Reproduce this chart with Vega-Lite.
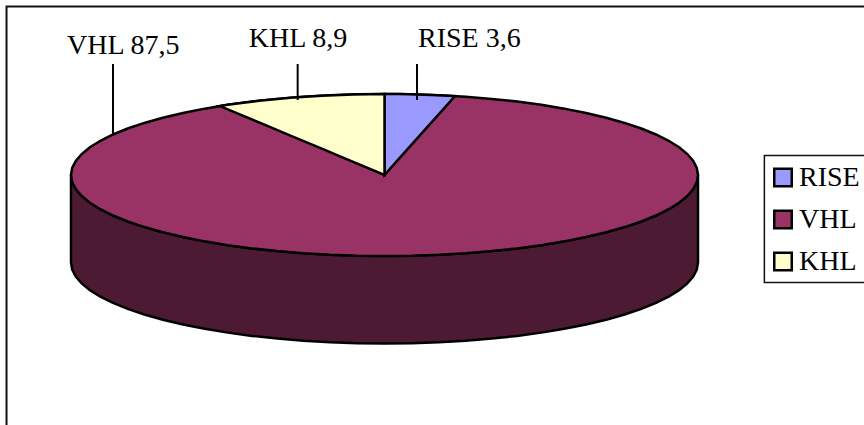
{"$schema":"https://vega.github.io/schema/vega-lite/v6.json","width":864,"height":425,"padding":0,"autosize":{"type":"none"},"background":"white","config":{"view":{"stroke":null}},
"datasets":{
"frame":[{"x":-1.2057,"x2":2,"y":2.08,"y2":-4}],
"box":[{"x":1.2117,"x2":2,"y":0.2407,"y2":-1.3272}],
"wall":[{"x":1,"y":0,"y2":-1.08},{"x":0.9962,"y":-0.0872,"y2":-1.1672},{"x":0.9848,"y":-0.1736,"y2":-1.2536},{"x":0.9659,"y":-0.2588,"y2":-1.3388},{"x":0.9397,"y":-0.342,"y2":-1.422},{"x":0.9063,"y":-0.4226,"y2":-1.5026},{"x":0.866,"y":-0.5,"y2":-1.58},{"x":0.8192,"y":-0.5736,"y2":-1.6536},{"x":0.766,"y":-0.6428,"y2":-1.7228},{"x":0.7071,"y":-0.7071,"y2":-1.7871},{"x":0.6428,"y":-0.766,"y2":-1.846},{"x":0.5736,"y":-0.8192,"y2":-1.8992},{"x":0.5,"y":-0.866,"y2":-1.946},{"x":0.4226,"y":-0.9063,"y2":-1.9863},{"x":0.342,"y":-0.9397,"y2":-2.0197},{"x":0.2588,"y":-0.9659,"y2":-2.0459},{"x":0.1736,"y":-0.9848,"y2":-2.0648},{"x":0.0872,"y":-0.9962,"y2":-2.0762},{"x":0,"y":-1,"y2":-2.08},{"x":-0.0872,"y":-0.9962,"y2":-2.0762},{"x":-0.1736,"y":-0.9848,"y2":-2.0648},{"x":-0.2588,"y":-0.9659,"y2":-2.0459},{"x":-0.342,"y":-0.9397,"y2":-2.0197},{"x":-0.4226,"y":-0.9063,"y2":-1.9863},{"x":-0.5,"y":-0.866,"y2":-1.946},{"x":-0.5736,"y":-0.8192,"y2":-1.8992},{"x":-0.6428,"y":-0.766,"y2":-1.846},{"x":-0.7071,"y":-0.7071,"y2":-1.7871},{"x":-0.766,"y":-0.6428,"y2":-1.7228},{"x":-0.8192,"y":-0.5736,"y2":-1.6536},{"x":-0.866,"y":-0.5,"y2":-1.58},{"x":-0.9063,"y":-0.4226,"y2":-1.5026},{"x":-0.9397,"y":-0.342,"y2":-1.422},{"x":-0.9659,"y":-0.2588,"y2":-1.3388},{"x":-0.9848,"y":-0.1736,"y2":-1.2536},{"x":-0.9962,"y":-0.0872,"y2":-1.1672},{"x":-1,"y":0,"y2":-1.08}],
"top":[{"series":"VHL","x":1,"y":0,"y2":0},{"series":"VHL","x":0.9962,"y":0.0872,"y2":-0.0872},{"series":"VHL","x":0.9848,"y":0.1736,"y2":-0.1736},{"series":"VHL","x":0.9659,"y":0.2588,"y2":-0.2588},{"series":"VHL","x":0.9397,"y":0.342,"y2":-0.342},{"series":"VHL","x":0.9063,"y":0.4226,"y2":-0.4226},{"series":"VHL","x":0.866,"y":0.5,"y2":-0.5},{"series":"VHL","x":0.8192,"y":0.5736,"y2":-0.5736},{"series":"VHL","x":0.766,"y":0.6428,"y2":-0.6428},{"series":"VHL","x":0.7071,"y":0.7071,"y2":-0.7071},{"series":"VHL","x":0.6428,"y":0.766,"y2":-0.766},{"series":"VHL","x":0.5736,"y":0.8192,"y2":-0.8192},{"series":"VHL","x":0.5,"y":0.866,"y2":-0.866},{"series":"VHL","x":0.4226,"y":0.9063,"y2":-0.9063},{"series":"VHL","x":0.342,"y":0.9397,"y2":-0.9397},{"series":"VHL","x":0.2588,"y":0.9659,"y2":-0.9659},{"series":"VHL","x":0.1736,"y":0.9848,"y2":-0.9848},{"series":"VHL","x":0.0872,"y":0.9962,"y2":-0.9962},{"series":"VHL","x":0,"y":1,"y2":-1},{"series":"VHL","x":-0.0872,"y":0.9962,"y2":-0.9962},{"series":"VHL","x":-0.1736,"y":0.9848,"y2":-0.9848},{"series":"VHL","x":-0.2588,"y":0.9659,"y2":-0.9659},{"series":"VHL","x":-0.342,"y":0.9397,"y2":-0.9397},{"series":"VHL","x":-0.4226,"y":0.9063,"y2":-0.9063},{"series":"VHL","x":-0.5,"y":0.866,"y2":-0.866},{"series":"VHL","x":-0.5736,"y":0.8192,"y2":-0.8192},{"series":"VHL","x":-0.6428,"y":0.766,"y2":-0.766},{"series":"VHL","x":-0.7071,"y":0.7071,"y2":-0.7071},{"series":"VHL","x":-0.766,"y":0.6428,"y2":-0.6428},{"series":"VHL","x":-0.8192,"y":0.5736,"y2":-0.5736},{"series":"VHL","x":-0.866,"y":0.5,"y2":-0.5},{"series":"VHL","x":-0.9063,"y":0.4226,"y2":-0.4226},{"series":"VHL","x":-0.9397,"y":0.342,"y2":-0.342},{"series":"VHL","x":-0.9659,"y":0.2588,"y2":-0.2588},{"series":"VHL","x":-0.9848,"y":0.1736,"y2":-0.1736},{"series":"VHL","x":-0.9962,"y":0.0872,"y2":-0.0872},{"series":"VHL","x":-1,"y":0,"y2":0},
{"series":"RISE","x":0,"y":1,"y2":0},{"series":"RISE","x":0.05,"y":0.9987,"y2":0.2166},{"series":"RISE","x":0.1,"y":0.995,"y2":0.4333},{"series":"RISE","x":0.15,"y":0.9887,"y2":0.65},{"series":"RISE","x":0.2,"y":0.9798,"y2":0.8665},{"series":"RISE","x":0.2249,"y":0.9744,"y2":0.9744},
{"series":"KHL","x":-0.5247,"y":0.8513,"y2":0.8513},{"series":"KHL","x":-0.5,"y":0.866,"y2":0.8113},{"series":"KHL","x":-0.45,"y":0.893,"y2":0.7301},{"series":"KHL","x":-0.4,"y":0.9165,"y2":0.649},{"series":"KHL","x":-0.3,"y":0.9539,"y2":0.4868},{"series":"KHL","x":-0.2,"y":0.9798,"y2":0.3245},{"series":"KHL","x":-0.1,"y":0.995,"y2":0.1623},{"series":"KHL","x":0,"y":1,"y2":0}],
"leaders":[{"x":-0.866,"y":1.37,"y2":0.494},{"x":-0.277,"y":1.37,"y2":0.926},{"x":0.1037,"y":1.37,"y2":0.926}],
"labels":[{"label":"VHL 87,5","x":-1.0128,"y":1.494},{"label":"KHL 8,9","x":-0.4329,"y":1.58},{"label":"RISE 3,6","x":0.1069,"y":1.58}]},
"layer":[
{"data":{"name":"frame"},"mark":{"type":"rect","fill":"white","stroke":"#111111","strokeWidth":2},"encoding":{"x":{"field":"x","type":"quantitative","scale":{"domain":[-1.2265,1.5295],"nice":false,"zero":false},"axis":null},"x2":{"field":"x2"},"y":{"field":"y","type":"quantitative","scale":{"domain":[-3.0864,2.1605],"nice":false,"zero":false},"axis":null},"y2":{"field":"y2"}}},
{"data":{"name":"box"},"mark":{"type":"rect","fill":"white","stroke":"#111111","strokeWidth":1.5},"encoding":{"x":{"field":"x","type":"quantitative","scale":{"domain":[-1.2265,1.5295],"nice":false,"zero":false},"axis":null},"x2":{"field":"x2"},"y":{"field":"y","type":"quantitative","scale":{"domain":[-3.0864,2.1605],"nice":false,"zero":false},"axis":null},"y2":{"field":"y2"}}},
{"data":{"name":"wall"},"mark":{"type":"area","fill":"#4D1A33","stroke":"black","strokeWidth":2.5,"orient":"vertical"},"encoding":{"x":{"field":"x","type":"quantitative","scale":{"domain":[-1.2265,1.5295],"nice":false,"zero":false},"axis":null},"y":{"field":"y","type":"quantitative","scale":{"domain":[-3.0864,2.1605],"nice":false,"zero":false},"axis":null},"y2":{"field":"y2"}}},
{"data":{"name":"top"},"mark":{"type":"area","stroke":"black","strokeWidth":2.5,"orient":"vertical"},"encoding":{"x":{"field":"x","type":"quantitative","scale":{"domain":[-1.2265,1.5295],"nice":false,"zero":false},"axis":null},"y":{"field":"y","type":"quantitative","scale":{"domain":[-3.0864,2.1605],"nice":false,"zero":false},"axis":null},"y2":{"field":"y2"},"color":{"field":"series","type":"nominal","sort":null,"scale":{"domain":["RISE","VHL","KHL"],"range":["#9999FF","#993366","#FFFFCC"]},"legend":{"title":null,"orient":"none","legendX":760.5,"legendY":155,"padding":8.5,"symbolType":"square","symbolSize":306,"symbolStrokeWidth":2.5,"symbolStrokeColor":"black","symbolOpacity":1,"labelFont":"Liberation Serif","labelFontSize":28,"labelColor":"black","labelOffset":2,"rowPadding":14,"labelLimit":200}}}},
{"data":{"name":"leaders"},"mark":{"type":"rule","stroke":"black","strokeWidth":2},"encoding":{"x":{"field":"x","type":"quantitative","scale":{"domain":[-1.2265,1.5295],"nice":false,"zero":false},"axis":null},"y":{"field":"y","type":"quantitative","scale":{"domain":[-3.0864,2.1605],"nice":false,"zero":false},"axis":null},"y2":{"field":"y2"}}},
{"data":{"name":"labels"},"mark":{"type":"text","align":"left","baseline":"alphabetic","font":"Liberation Serif","fontSize":28,"fill":"black"},"encoding":{"x":{"field":"x","type":"quantitative","scale":{"domain":[-1.2265,1.5295],"nice":false,"zero":false},"axis":null},"y":{"field":"y","type":"quantitative","scale":{"domain":[-3.0864,2.1605],"nice":false,"zero":false},"axis":null},"text":{"field":"label"}}}
]}
